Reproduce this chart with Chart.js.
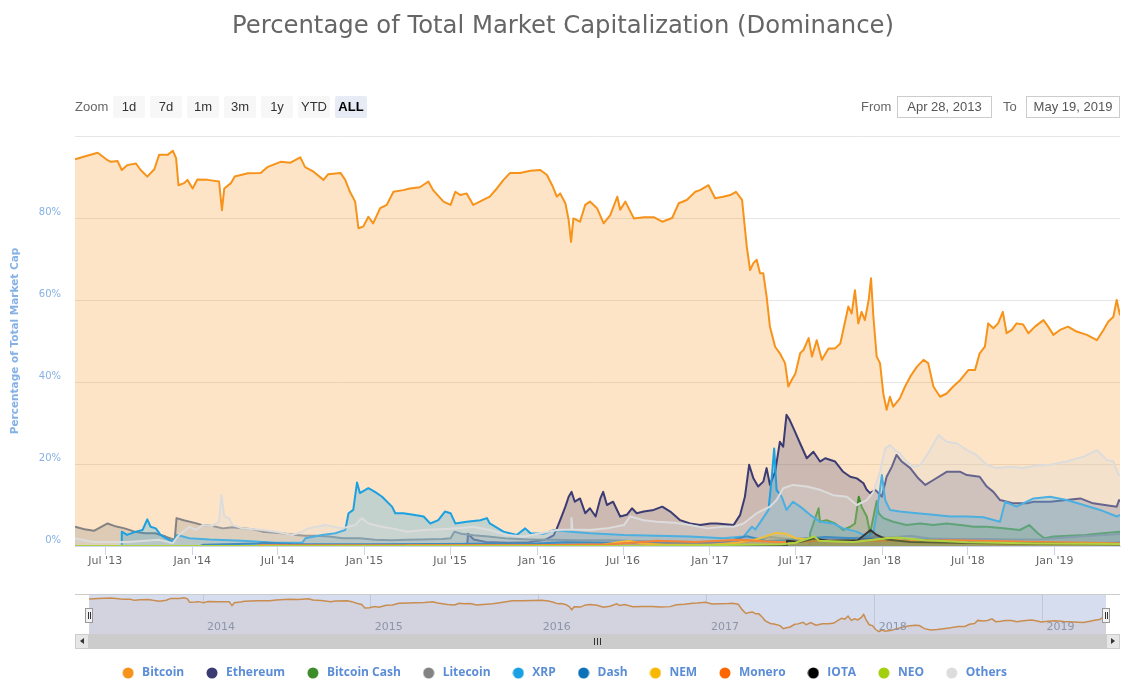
<!DOCTYPE html>
<html><head><meta charset="utf-8">
<script src="https://cdn.jsdelivr.net/npm/chart.js@4.4.1/dist/chart.umd.min.js"></script>
<style>
html,body{margin:0;padding:0;background:#fff;}
#wrap{position:relative;width:1144px;height:686px;overflow:hidden;font-family:"Liberation Sans",Arial,sans-serif;}
#main{position:absolute;left:0;top:0;}
#title{position:absolute;left:0;top:8px;width:1126px;text-align:center;font-family:"DejaVu Sans",sans-serif;font-size:24.3px;color:#666;line-height:34px;white-space:nowrap;}
.lbl{position:absolute;top:96px;height:22px;line-height:22px;font-size:13px;color:#666;}
.btn{position:absolute;top:96px;width:32px;height:22px;line-height:22px;text-align:center;background:#f7f7f7;border-radius:2px;font-size:13px;color:#333;}
.btn.sel{background:#e6ebf5;color:#000;font-weight:bold;}
.inp{position:absolute;top:96px;height:20px;line-height:20px;border:1px solid #ccc;font-size:13px;color:#555;text-align:center;background:#fff;}
#nav{position:absolute;left:89px;top:595px;background:#d5ddef;}
.abs{position:absolute;}
</style></head>
<body><div id="wrap">
<canvas id="main" width="1144" height="686"></canvas>
<div id="title">Percentage of Total Market Capitalization (Dominance)</div>
<div class="lbl" style="left:75px">Zoom</div>
<div class="btn" style="left:113px">1d</div>
<div class="btn" style="left:150px">7d</div>
<div class="btn" style="left:187px">1m</div>
<div class="btn" style="left:224px">3m</div>
<div class="btn" style="left:261px">1y</div>
<div class="btn" style="left:298px">YTD</div>
<div class="btn sel" style="left:335px">ALL</div>
<div class="lbl" style="left:861px">From</div>
<div class="inp" style="left:897px;width:93px">Apr 28, 2013</div>
<div class="lbl" style="left:1003px">To</div>
<div class="inp" style="left:1026px;width:92px">May 19, 2019</div>
<div class="abs" style="left:75px;top:594px;width:1045px;height:1px;background:#cccccc"></div>
<canvas id="nav" width="1017" height="39"></canvas>
<div class="abs" style="left:75px;top:634px;width:1045px;height:15px;background:#cccccc"></div>
<div class="abs" style="left:75px;top:634px;width:14px;height:15px;background:#e6e6e6;box-sizing:border-box;border:1px solid #cccccc"></div>
<div class="abs" style="left:80px;top:638px;width:0;height:0;border-top:3.5px solid transparent;border-bottom:3.5px solid transparent;border-right:4px solid #333"></div>
<div class="abs" style="left:1106px;top:634px;width:14px;height:15px;background:#e6e6e6;box-sizing:border-box;border:1px solid #cccccc"></div>
<div class="abs" style="left:1111px;top:638px;width:0;height:0;border-top:3.5px solid transparent;border-bottom:3.5px solid transparent;border-left:4px solid #333"></div>
<div class="abs" style="left:594px;top:638px;width:1px;height:7px;background:#333"></div>
<div class="abs" style="left:597px;top:638px;width:1px;height:7px;background:#333"></div>
<div class="abs" style="left:600px;top:638px;width:1px;height:7px;background:#333"></div>
<div class="abs" style="left:85px;top:608px;width:8px;height:15px;background:#f2f2f2;box-sizing:border-box;border:1px solid #999"></div>
<div class="abs" style="left:88px;top:612px;width:1px;height:7px;background:#333"></div>
<div class="abs" style="left:90px;top:612px;width:1px;height:7px;background:#333"></div>
<div class="abs" style="left:1102px;top:608px;width:8px;height:15px;background:#f2f2f2;box-sizing:border-box;border:1px solid #999"></div>
<div class="abs" style="left:1105px;top:612px;width:1px;height:7px;background:#333"></div>
<div class="abs" style="left:1107px;top:612px;width:1px;height:7px;background:#333"></div>
</div>
<script>
const START = "2013-04-28";
const END = "2019-05-19";
const seriesNames = ["Bitcoin","Ethereum","Bitcoin Cash","Litecoin","XRP","Dash","NEM","Monero","IOTA","NEO","Others"];
const seriesColors = ["#f7931a","#3c3c74","#3d8c2a","#838383","#1ba1e2","#0b72b9","#f9b800","#ff6600","#000000","#a2cf0e","#dcdcdc"];
const xTickDates = ["2013-07-01","2014-01-01","2014-07-01","2015-01-01","2015-07-01","2016-01-01","2016-07-01","2017-01-01","2017-07-01","2018-01-01","2018-07-01","2019-01-01"];
const xTickLabels = ["Jul '13","Jan '14","Jul '14","Jan '15","Jul '15","Jan '16","Jul '16","Jan '17","Jul '17","Jan '18","Jul '18","Jan '19"];
const yTicks = [0,20,40,60,80,100];
const navTickDates = ["2014-01-01","2015-01-01","2016-01-01","2017-01-01","2018-01-01","2019-01-01"];
const navTickLabels = ["2014","2015","2016","2017","2018","2019"];

const bitcoin = [["2013-04-28",94.3],["2013-05-18",95.0],["2013-06-15",95.9],["2013-07-06",94.1],["2013-07-13",93.7],["2013-07-27",93.9],["2013-08-05",91.7],["2013-08-17",92.9],["2013-09-04",93.3],["2013-09-14",91.7],["2013-09-28",90.1],["2013-10-13",91.9],["2013-10-23",95.4],["2013-11-10",95.4],["2013-11-21",96.4],["2013-11-28",94.6],["2013-12-03",88.0],["2013-12-15",88.5],["2013-12-22",89.3],["2014-01-02",87.2],["2014-01-12",89.4],["2014-02-03",89.3],["2014-02-27",88.9],["2014-03-05",81.9],["2014-03-10",87.2],["2014-03-24",88.5],["2014-04-01",90.1],["2014-04-29",90.9],["2014-05-26",91.0],["2014-06-09",92.4],["2014-07-07",93.7],["2014-07-28",93.5],["2014-08-18",94.8],["2014-08-28",92.4],["2014-09-15",91.3],["2014-10-06",89.3],["2014-10-16",90.7],["2014-11-11",91.0],["2014-11-21",89.3],["2014-12-01",86.4],["2014-12-12",84.0],["2014-12-19",77.5],["2014-12-29",77.9],["2015-01-09",80.3],["2015-01-19",78.7],["2015-02-03",82.4],["2015-02-17",83.2],["2015-03-03",86.4],["2015-03-24",86.8],["2015-04-07",87.2],["2015-04-28",87.5],["2015-05-16",88.9],["2015-05-26",86.8],["2015-06-17",84.0],["2015-07-02",83.2],["2015-07-12",86.4],["2015-07-23",85.6],["2015-08-05",86.0],["2015-08-19",83.2],["2015-09-09",84.4],["2015-09-23",85.2],["2015-10-08",87.2],["2015-10-22",89.3],["2015-11-05",91.0],["2015-11-26",91.0],["2015-12-18",91.5],["2016-01-08",91.7],["2016-01-22",90.5],["2016-02-02",88.0],["2016-02-12",85.2],["2016-02-19",86.0],["2016-03-01",83.6],["2016-03-08",79.5],["2016-03-13",74.2],["2016-03-18",79.9],["2016-04-01",79.1],["2016-04-12",83.2],["2016-04-22",84.0],["2016-05-07",82.4],["2016-05-21",78.7],["2016-06-04",80.7],["2016-06-19",85.2],["2016-06-25",82.0],["2016-07-06",84.0],["2016-07-24",79.9],["2016-08-14",80.2],["2016-09-04",80.2],["2016-09-22",79.1],["2016-10-13",80.0],["2016-10-27",83.6],["2016-11-13",84.4],["2016-12-01",86.4],["2016-12-11",86.8],["2016-12-29",88.0],["2017-01-12",84.8],["2017-01-29",85.2],["2017-02-13",85.6],["2017-02-25",86.4],["2017-03-10",84.4],["2017-03-20",73.0],["2017-03-27",67.3],["2017-04-03",69.0],["2017-04-10",69.8],["2017-04-17",66.5],["2017-04-24",66.5],["2017-05-01",60.8],["2017-05-08",53.5],["2017-05-19",48.6],["2017-05-29",47.0],["2017-06-09",44.6],["2017-06-16",38.9],["2017-06-23",40.5],["2017-07-01",42.1],["2017-07-11",47.0],["2017-07-18",47.8],["2017-07-29",50.7],["2017-08-05",46.2],["2017-08-15",50.2],["2017-08-26",45.4],["2017-09-09",48.2],["2017-09-23",48.2],["2017-10-04",49.4],["2017-10-14",54.7],["2017-10-21",58.4],["2017-10-28",56.7],["2017-11-04",62.4],["2017-11-11",54.3],["2017-11-18",57.1],["2017-11-25",55.1],["2017-12-03",60.0],["2017-12-08",65.3],["2017-12-13",55.9],["2017-12-20",46.2],["2017-12-27",44.6],["2018-01-03",37.2],["2018-01-10",33.2],["2018-01-17",36.4],["2018-01-24",34.0],["2018-02-07",36.0],["2018-02-18",38.9],["2018-03-01",41.3],["2018-03-15",43.7],["2018-03-29",45.4],["2018-04-08",44.6],["2018-04-19",38.9],["2018-05-03",36.4],["2018-05-17",37.2],["2018-05-31",38.9],["2018-06-15",40.5],["2018-07-02",42.9],["2018-07-16",42.9],["2018-07-26",47.0],["2018-08-06",48.6],["2018-08-13",54.3],["2018-08-24",53.1],["2018-09-03",54.3],["2018-09-13",57.1],["2018-09-21",51.9],["2018-10-02",52.7],["2018-10-12",54.3],["2018-10-26",54.0],["2018-11-06",51.9],["2018-11-20",53.5],["2018-12-08",55.1],["2018-12-18",53.5],["2018-12-29",51.5],["2019-01-12",52.7],["2019-01-29",53.5],["2019-02-16",52.3],["2019-03-10",51.5],["2019-03-31",50.2],["2019-04-14",52.7],["2019-04-24",54.7],["2019-05-05",55.9],["2019-05-12",60.0],["2019-05-19",56.3]];

const ethereum = [["2013-04-28",0],["2015-08-06",0],["2015-08-08",3.0],["2015-08-20",1.6],["2015-09-15",1.0],["2015-11-01",0.8],["2015-12-15",0.9],["2016-01-20",1.6],["2016-02-05",2.6],["2016-02-12",4.3],["2016-02-19",6.3],["2016-03-01",9.6],["2016-03-08",12.0],["2016-03-14",13.2],["2016-03-21",10.8],["2016-04-01",11.6],["2016-04-12",8.0],["2016-04-22",9.2],["2016-05-04",7.2],["2016-05-14",11.6],["2016-05-20",13.2],["2016-05-28",10.0],["2016-06-10",10.8],["2016-06-25",7.2],["2016-07-09",7.6],["2016-07-20",9.2],["2016-07-30",8.0],["2016-08-14",8.4],["2016-09-04",8.8],["2016-09-22",9.6],["2016-10-09",8.4],["2016-10-30",6.3],["2016-11-20",5.5],["2016-12-11",5.1],["2017-01-02",5.5],["2017-01-16",5.5],["2017-02-20",5.1],["2017-03-06",7.6],["2017-03-16",12.0],["2017-03-25",19.8],["2017-04-03",16.5],["2017-04-13",14.5],["2017-04-24",15.7],["2017-05-01",19.0],["2017-05-08",14.9],["2017-05-19",18.1],["2017-05-29",25.4],["2017-06-05",24.2],["2017-06-12",32.0],["2017-06-19",30.7],["2017-06-30",27.9],["2017-07-11",25.0],["2017-07-25",21.4],["2017-08-08",23.0],["2017-08-22",20.6],["2017-09-02",21.4],["2017-09-23",20.6],["2017-10-10",18.1],["2017-10-25",16.9],["2017-11-08",16.5],["2017-11-22",15.3],["2017-11-29",13.7],["2017-12-06",12.9],["2017-12-17",13.7],["2017-12-31",12.0],["2018-01-10",16.9],["2018-01-21",19.3],["2018-01-31",22.2],["2018-02-11",20.6],["2018-03-01",19.0],["2018-03-18",16.5],["2018-04-02",14.9],["2018-04-19",16.1],["2018-05-17",18.1],["2018-06-15",18.1],["2018-06-29",17.3],["2018-07-26",16.9],["2018-08-10",14.5],["2018-08-24",13.2],["2018-09-07",11.2],["2018-10-06",10.4],["2018-11-03",10.4],["2018-11-17",10.8],["2018-12-22",10.8],["2019-01-26",11.2],["2019-02-24",11.6],["2019-03-23",10.4],["2019-05-12",9.6],["2019-05-17",11.2],["2019-05-19",10.8]];

const bitcoinCash = [["2013-04-28",0],["2017-07-31",0],["2017-08-01",3.1],["2017-08-19",9.2],["2017-08-22",5.9],["2017-09-05",6.3],["2017-09-23",5.5],["2017-10-10",3.9],["2017-10-25",4.7],["2017-11-04",5.5],["2017-11-12",12.0],["2017-11-18",9.6],["2017-11-29",7.2],["2017-12-06",3.1],["2017-12-20",11.0],["2017-12-24",8.0],["2018-01-03",6.8],["2018-01-24",5.9],["2018-02-21",5.1],["2018-03-22",5.5],["2018-04-19",5.1],["2018-05-17",5.5],["2018-06-15",5.1],["2018-07-14",4.7],["2018-08-10",4.7],["2018-09-14",4.3],["2018-10-19",3.9],["2018-11-08",5.1],["2018-11-26",3.1],["2018-12-10",1.9],["2018-12-29",2.3],["2019-03-07",2.7],["2019-04-12",3.1],["2019-05-19",3.5]];

const litecoin = [["2013-04-28",4.7],["2013-05-18",4.1],["2013-06-07",3.7],["2013-07-06",5.5],["2013-07-20",4.9],["2013-08-11",4.3],["2013-09-01",3.5],["2013-09-23",3.1],["2013-10-15",3.1],["2013-11-06",2.3],["2013-11-25",1.5],["2013-11-29",6.8],["2013-12-14",6.3],["2014-01-04",5.7],["2014-01-23",5.1],["2014-02-13",4.9],["2014-03-07",4.3],["2014-03-27",4.6],["2014-04-17",4.3],["2014-05-09",4.1],["2014-05-30",3.5],["2014-06-20",3.3],["2014-07-10",3.1],["2014-08-08",2.7],["2014-08-29",2.5],["2014-09-20",2.5],["2014-10-18",2.3],["2014-11-16",1.9],["2014-12-21",1.9],["2015-01-23",1.5],["2015-02-28",1.4],["2015-04-01",1.5],["2015-05-01",1.6],["2015-06-15",1.7],["2015-07-02",1.9],["2015-07-10",3.5],["2015-07-25",3.0],["2015-08-20",2.6],["2015-09-20",2.3],["2015-11-01",1.8],["2015-12-15",1.6],["2016-02-01",1.5],["2016-04-01",1.4],["2016-06-01",1.4],["2016-08-01",1.2],["2016-10-01",1.1],["2016-12-01",1.0],["2017-02-01",0.9],["2017-03-20",1.0],["2017-04-10",1.6],["2017-05-10",2.2],["2017-06-15",1.7],["2017-08-15",2.0],["2017-10-15",1.8],["2017-12-15",2.3],["2018-01-15",2.1],["2018-03-01",2.5],["2018-04-15",1.8],["2018-06-01",1.7],["2018-08-01",1.7],["2018-10-01",1.6],["2018-12-01",1.6],["2019-01-15",2.0],["2019-03-01",2.4],["2019-05-01",2.8],["2019-05-19",2.9]];

const xrp = [["2013-04-28",0],["2013-08-04",0],["2013-08-05",3.5],["2013-08-16",2.7],["2013-09-04",3.5],["2013-09-18",3.9],["2013-09-28",6.5],["2013-10-05",4.7],["2013-10-16",4.3],["2013-10-26",2.7],["2013-11-06",1.9],["2013-11-21",1.0],["2013-12-01",2.7],["2013-12-26",1.9],["2014-02-06",1.6],["2014-04-17",1.3],["2014-05-30",1.0],["2014-06-27",0.8],["2014-08-22",0.8],["2014-08-29",1.9],["2014-10-03",2.7],["2014-10-31",3.1],["2014-11-21",3.9],["2014-11-28",8.0],["2014-12-08",8.8],["2014-12-16",15.5],["2014-12-22",12.9],["2015-01-09",14.1],["2015-01-23",13.2],["2015-02-07",12.0],["2015-02-28",9.6],["2015-03-07",8.0],["2015-03-24",8.0],["2015-04-14",7.6],["2015-05-06",7.2],["2015-05-20",5.5],["2015-06-06",6.3],["2015-06-20",8.4],["2015-07-02",8.0],["2015-07-12",5.5],["2015-08-05",5.9],["2015-09-03",6.3],["2015-09-17",6.8],["2015-09-23",5.5],["2015-10-22",3.5],["2015-11-19",2.7],["2015-12-07",4.3],["2015-12-18",3.1],["2016-01-15",3.0],["2016-02-06",3.9],["2016-03-12",3.5],["2016-04-22",3.1],["2016-07-03",2.7],["2016-09-11",2.5],["2016-11-20",2.3],["2017-01-29",1.9],["2017-03-13",2.3],["2017-03-31",4.7],["2017-04-07",4.0],["2017-05-05",8.8],["2017-05-12",16.9],["2017-05-17",23.8],["2017-05-22",13.7],["2017-06-02",12.0],["2017-06-12",8.8],["2017-06-26",10.8],["2017-07-11",9.6],["2017-08-01",7.6],["2017-08-22",5.9],["2017-09-19",5.5],["2017-10-10",4.3],["2017-11-08",3.5],["2017-11-29",2.3],["2017-12-13",3.3],["2017-12-20",8.0],["2017-12-31",17.3],["2018-01-07",11.2],["2018-01-17",8.8],["2018-02-07",8.4],["2018-03-15",8.0],["2018-04-19",7.6],["2018-05-25",7.2],["2018-06-29",7.2],["2018-08-03",7.0],["2018-09-07",5.9],["2018-09-18",10.8],["2018-10-12",9.6],["2018-11-17",11.6],["2018-12-22",12.0],["2019-01-26",11.2],["2019-03-03",10.0],["2019-04-07",8.8],["2019-05-12",7.2],["2019-05-19",7.6]];

const dash = [["2013-04-28",0],["2014-01-18",0],["2014-01-25",0.3],["2014-05-20",0.6],["2014-06-01",0.8],["2014-08-01",0.5],["2015-01-01",0.4],["2015-06-01",0.5],["2016-01-01",0.6],["2016-03-01",0.9],["2016-06-01",0.8],["2016-12-01",0.7],["2017-02-01",0.9],["2017-03-20",2.4],["2017-05-01",1.2],["2017-07-01",1.5],["2017-09-01",2.2],["2017-11-01",1.9],["2018-01-01",1.6],["2018-04-01",1.5],["2018-07-01",1.1],["2018-10-01",1.0],["2018-12-15",0.6],["2019-03-01",0.6],["2019-05-19",0.8]];

const nem = [["2013-04-28",0],["2015-03-31",0],["2015-04-01",0.1],["2016-01-01",0.1],["2016-05-20",0.3],["2016-06-25",1.0],["2016-07-15",1.2],["2016-08-10",0.6],["2016-10-01",0.3],["2017-01-01",0.3],["2017-03-01",0.8],["2017-04-15",1.8],["2017-05-20",3.2],["2017-06-10",3.0],["2017-07-01",1.9],["2017-08-01",1.5],["2017-10-01",1.0],["2017-12-01",1.2],["2018-01-10",2.0],["2018-03-01",1.0],["2018-06-01",0.8],["2018-10-01",0.5],["2019-05-19",0.4]];

const monero = [["2013-04-28",0],["2014-05-20",0],["2014-05-21",0.2],["2015-06-01",0.2],["2016-01-01",0.2],["2016-06-01",0.4],["2016-08-25",1.1],["2016-09-10",1.3],["2016-12-01",1.0],["2017-03-01",1.5],["2017-06-01",0.9],["2017-09-01",1.3],["2018-01-01",1.3],["2018-06-01",1.4],["2018-12-01",1.0],["2019-05-19",0.7]];

const iota = [["2013-04-28",0],["2017-06-12",0],["2017-06-13",1.3],["2017-07-10",1.0],["2017-08-10",1.8],["2017-09-10",1.3],["2017-11-10",1.4],["2017-12-07",3.9],["2017-12-20",2.7],["2018-01-10",1.6],["2018-03-01",1.0],["2018-06-01",0.8],["2018-10-01",0.6],["2019-05-19",0.4]];

const neo = [["2013-04-28",0],["2016-09-01",0],["2016-09-08",0.05],["2017-06-01",0.4],["2017-07-01",0.8],["2017-08-10",2.3],["2017-08-20",1.3],["2017-11-01",1.0],["2018-01-10",1.9],["2018-02-01",2.1],["2018-04-01",1.4],["2018-07-01",0.9],["2018-12-01",0.6],["2019-05-19",0.5]];

const others = [["2013-04-28",1.9],["2013-06-05",1.0],["2013-08-18",1.0],["2013-10-23",1.5],["2013-11-21",0.7],["2013-12-04",2.7],["2013-12-26",4.7],["2014-01-09",3.9],["2014-01-23",5.1],["2014-02-12",4.9],["2014-02-27",5.9],["2014-03-04",12.4],["2014-03-10",7.2],["2014-03-20",6.8],["2014-03-27",5.1],["2014-04-17",4.3],["2014-05-30",3.9],["2014-06-27",3.5],["2014-08-01",2.7],["2014-08-22",3.5],["2014-09-04",4.3],["2014-10-10",5.1],["2014-11-14",4.3],["2014-12-12",5.1],["2014-12-26",6.8],["2015-01-09",5.5],["2015-02-07",4.7],["2015-02-28",4.3],["2015-04-01",3.5],["2015-05-06",3.9],["2015-06-10",4.1],["2015-07-16",4.3],["2015-08-19",4.7],["2015-09-23",3.9],["2015-10-29",2.7],["2015-12-04",2.3],["2016-01-08",3.1],["2016-02-12",3.9],["2016-03-13",4.0],["2016-03-14",6.8],["2016-03-16",4.0],["2016-04-22",3.9],["2016-05-28",4.3],["2016-07-03",5.1],["2016-07-16",7.2],["2016-08-14",6.3],["2016-09-11",5.9],["2016-10-17",5.7],["2016-11-20",5.1],["2016-12-26",4.3],["2017-01-29",4.7],["2017-02-20",4.7],["2017-03-13",5.5],["2017-04-10",8.0],["2017-05-08",9.6],["2017-05-22",11.2],["2017-06-05",14.1],["2017-06-26",14.9],["2017-07-25",14.5],["2017-08-22",13.7],["2017-09-19",12.4],["2017-10-18",12.0],["2017-11-08",10.0],["2017-11-29",11.2],["2017-12-13",13.2],["2017-12-27",18.1],["2018-01-07",23.8],["2018-01-17",24.6],["2018-01-28",23.4],["2018-02-07",22.6],["2018-02-21",20.6],["2018-03-08",19.3],["2018-03-22",19.7],["2018-04-12",23.4],["2018-04-30",27.1],["2018-05-17",25.4],["2018-06-08",25.0],["2018-06-29",23.4],["2018-07-19",22.2],["2018-08-10",19.8],["2018-08-31",19.0],["2018-09-28",19.3],["2018-10-26",19.0],["2018-11-17",19.5],["2018-12-22",19.8],["2019-01-26",20.6],["2019-03-03",21.8],["2019-03-31",23.4],["2019-04-21",21.0],["2019-05-05",20.6],["2019-05-16",17.3],["2019-05-19",17.5]];

const allSeries = [bitcoin, ethereum, bitcoinCash, litecoin, xrp, dash, nem, monero, iota, neo, others];

function ts(s){ const p = s.split('-').map(Number); return Date.UTC(p[0], p[1]-1, p[2]); }
function rgba(hex, a){ const n = parseInt(hex.slice(1),16); return 'rgba('+((n>>16)&255)+','+((n>>8)&255)+','+(n&255)+','+a+')'; }

Chart.defaults.font.family = "'DejaVu Sans', sans-serif";
const PAD_B = -3;
const PLOT_BOTTOM = 546;

const dots = seriesColors.map(c => {
  const cv = document.createElement('canvas'); cv.width = 12; cv.height = 12;
  const g = cv.getContext('2d'); g.fillStyle = c; g.beginPath(); g.arc(6,6,5.5,0,Math.PI*2); g.fill();
  return cv;
});

new Chart(document.getElementById('main'), {
  type: 'line',
  data: {
    datasets: allSeries.map((s, i) => ({
      label: seriesNames[i],
      data: s.map(p => ({x: ts(p[0]), y: p[1]})),
      borderColor: seriesColors[i],
      backgroundColor: rgba(seriesColors[i], 0.25),
      borderWidth: 2,
      pointRadius: 0, pointHoverRadius: 0,
      tension: 0, fill: 'origin',
      borderJoinStyle: 'round',
      order: allSeries.length - i
    }))
  },
  options: {
    responsive: false, animation: false, events: [],
    layout: {padding: {left: 7, right: 24, top: 136, bottom: PAD_B}},
    scales: {
      x: {
        type: 'linear', min: ts(START), max: ts(END),
        afterBuildTicks: s => { s.ticks = xTickDates.map(d => ({value: ts(d)})); },
        afterFit: s => { const lg = s.chart.legend; const lh = (lg && lg.height) ? lg.height : 42; s.height = Math.max(20, 686 - PAD_B - lh - PLOT_BOTTOM); },
        grid: {drawOnChartArea: false, drawTicks: true, tickLength: 9, color: '#ccd6eb'},
        border: {display: true, color: '#ccd6eb'},
        ticks: {autoSkip: false, maxRotation: 0, minRotation: 0, padding: 0, color: '#666666', font: {size: 11},
          callback: v => { const i = xTickDates.findIndex(d => ts(d) === v); return i >= 0 ? xTickLabels[i] : ''; }}
      },
      y: {
        min: 0, max: 100,
        afterBuildTicks: s => { s.ticks = yTicks.map(v => ({value: v})); },
        afterFit: s => { s.width = 68; },
        grid: {color: '#e6e6e6', drawTicks: false},
        border: {display: false},
        ticks: {padding: 14, labelOffset: -6, color: '#86b1e6', font: {size: 10}, callback: v => v === 100 ? '' : v + '%'},
        title: {display: true, text: 'Percentage of Total Market Cap', color: '#86b1e6', font: {size: 10.5, weight: 'bold'}, padding: {top: 2, bottom: 0}}
      }
    },
    plugins: {
      tooltip: {enabled: false},
      legend: {
        position: 'bottom', align: 'center',
        labels: {
          usePointStyle: true, pointStyleWidth: 16, boxHeight: 12,
          padding: 19.8, color: '#5b8dd6',
          font: {family: "'Open Sans', sans-serif", size: 12, weight: 'bold'},
          sort: (a, b) => a.datasetIndex - b.datasetIndex,
          generateLabels: chart => Chart.defaults.plugins.legend.labels.generateLabels(chart).map(it => Object.assign(it, {pointStyle: dots[it.datasetIndex]}))
        }
      }
    }
  }
});

new Chart(document.getElementById('nav'), {
  type: 'line',
  data: {datasets: [{data: bitcoin.map(p => ({x: ts(p[0]), y: p[1]})), borderColor: '#c98d50', backgroundColor: '#d3d3df', fill: 'start', borderWidth: 1.5, pointRadius: 0, tension: 0}]},
  options: {
    responsive: false, animation: false, events: [],
    layout: {padding: 0},
    scales: {
      x: {type: 'linear', min: ts(START), max: ts(END), z: 1,
        afterBuildTicks: s => { s.ticks = navTickDates.map(d => ({value: ts(d)})); },
        afterFit: s => { s.height = 0; },
        ticks: {display: false}, grid: {drawTicks: false, color: '#c3c8d8'}, border: {display: false}},
      y: {display: false, min: 28.9, max: 101.7}
    },
    plugins: {legend: {display: false}, tooltip: {enabled: false}}
  },
  plugins: [{
    id: 'navLabels',
    afterDraw(c) {
      const ctx = c.ctx, xs = c.scales.x;
      ctx.save(); ctx.font = "11px 'DejaVu Sans', sans-serif"; ctx.fillStyle = '#8c95aa'; ctx.textBaseline = 'middle';
      navTickDates.forEach((d, i) => ctx.fillText(navTickLabels[i], xs.getPixelForValue(ts(d)) + 4, 32));
      ctx.restore();
    }
  }]
});
</script>
</body></html>
